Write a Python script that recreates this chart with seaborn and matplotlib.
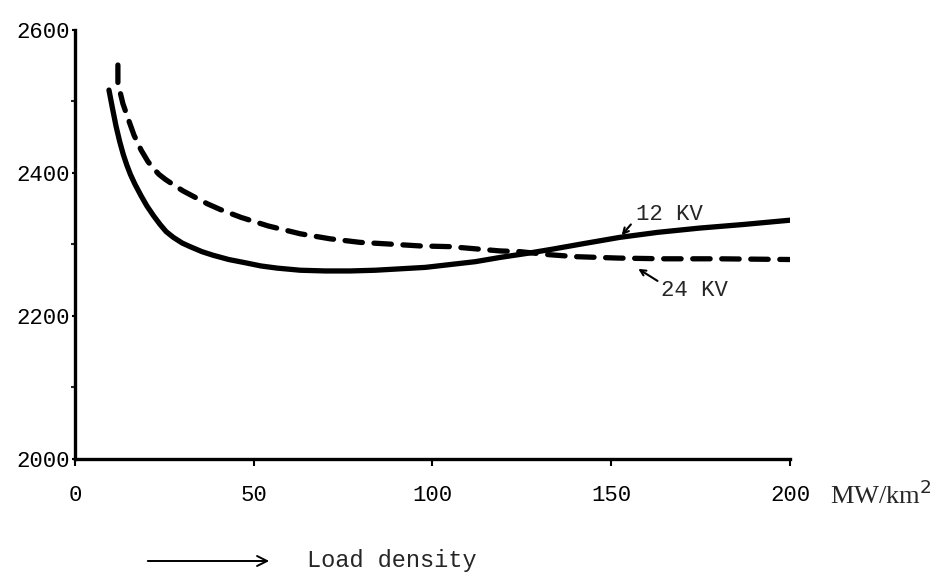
import matplotlib
matplotlib.use("Agg")
import matplotlib.pyplot as plt
import seaborn as sns
import pandas as pd

# Cost curves versus load density (MW/km^2)
x_12kv = [9.5, 10.5, 11.5, 12.5, 13.5, 14.5, 15.5, 16.8, 18.5, 20.1, 22.0, 23.8, 25.5, 27.5,
          30.0, 32.2, 35.5, 38.6, 43.0, 48.1, 52.0, 56.5, 63.0, 70.0, 77.0, 84.0, 91.0,
          98.0, 105.0, 112.0, 119.0, 127.0, 133.0, 142.0, 152.4, 163.0, 174.8, 187.0, 200.0]
y_12kv = [2516, 2490, 2465, 2444, 2426, 2411, 2398, 2384, 2368, 2354, 2340, 2328, 2318, 2310,
          2302, 2297, 2290, 2285, 2279, 2274, 2270, 2267, 2264, 2263, 2263, 2264, 2266,
          2268, 2272, 2276, 2282, 2288, 2293, 2301, 2310, 2317, 2323, 2328, 2334]

x_24kv = [12.0, 12.0, 13.4, 15.0, 16.5, 18.5, 20.4, 22.0, 23.5, 25.3, 27.1, 30.2, 33.6, 37.0,
          40.6, 46.4, 54.0, 63.0, 71.3, 79.7, 86.7, 96.5, 104.9, 111.9, 118.9, 124.5,
          132.0, 140.0, 152.0, 165.0, 180.0, 200.0]
y_24kv = [2551, 2526, 2497, 2474, 2453, 2432, 2416, 2406, 2398, 2391, 2385, 2375, 2366, 2357,
          2349, 2338, 2326, 2315, 2308, 2303, 2301, 2298, 2297, 2294, 2291, 2290,
          2286, 2283, 2281, 2280, 2280, 2279]

series_names = ["12 KV", "24 KV"]
x_ticks = [0, 50, 100, 150, 200]
y_ticks = [2000, 2200, 2400, 2600]
y_minor = [2100, 2300, 2500]

df = pd.concat([
    pd.DataFrame({"density": x_12kv, "cost": y_12kv, "voltage": series_names[0]}),
    pd.DataFrame({"density": x_24kv, "cost": y_24kv, "voltage": series_names[1]}),
])

sns.set_style("white")
plt.rcParams["font.family"] = ["Liberation Mono", "DejaVu Sans Mono"]

fig = plt.figure(figsize=(9.52, 5.76), dpi=100)
ax = fig.add_axes([75 / 952, (576 - 459) / 576, (790 - 75) / 952, (459 - 30) / 576])

sns.lineplot(
    data=df, x="density", y="cost", hue="voltage", style="voltage",
    palette={"12 KV": "black", "24 KV": "black"},
    dashes={"12 KV": "", "24 KV": (3.3, 2.2)},
    linewidth=3.8, legend=False, ax=ax, estimator=None, sort=False,
)
for ln in ax.get_lines():
    ln.set_solid_capstyle("round")
    ln.set_dash_capstyle("round")
    ln.set_solid_joinstyle("round")
    ln.set_dash_joinstyle("round")

ax.set_xlim(0, 200)
ax.set_ylim(2000, 2600)
ax.set_xticks(x_ticks)
ax.set_yticks(y_ticks)
ax.set_yticks(y_minor, minor=True)
ax.set_xlabel("")
ax.set_ylabel("")

for side in ["top", "right"]:
    ax.spines[side].set_visible(False)
for side in ["left", "bottom"]:
    ax.spines[side].set_linewidth(2.4)
    ax.spines[side].set_color("black")

ax.tick_params(axis="x", which="major", direction="out", length=5, width=1.5,
               pad=14, labelsize=16, colors="black", bottom=True)
ax.tick_params(axis="y", which="major", direction="out", length=2, width=1.5,
               pad=2, labelsize=16, colors="black", left=True)
ax.tick_params(axis="y", which="minor", direction="out", length=3, width=1.5,
               left=True)

# Curve labels with pointer arrows
ax.annotate("", xy=(152.4, 2310), xytext=(156.0, 2331),
            arrowprops=dict(arrowstyle="->", color="black", lw=1.5))
ax.text(156.8, 2342, series_names[0], ha="left", va="center", fontsize=16)
ax.annotate("", xy=(156.9, 2268), xytext=(163.6, 2247),
            arrowprops=dict(arrowstyle="->", color="black", lw=1.5))
ax.text(164.0, 2236, series_names[1], ha="left", va="center", fontsize=16)

# Unit label to the right of the axis
fig.text(830 / 952, 1 - 495 / 576, "MW/km$^2$", ha="left", va="center",
         fontsize=19, family="Liberation Serif")

# Direction arrow and axis caption beneath the chart
fig.patches.append(matplotlib.patches.FancyArrowPatch(
    (145 / 952, 1 - 561 / 576), (272 / 952, 1 - 561 / 576),
    transform=fig.transFigure, arrowstyle="->", mutation_scale=18,
    color="black", lw=1.4))
fig.text(307 / 952, 1 - 561 / 576, "Load density", ha="left", va="center",
         fontsize=17)

fig.savefig("out.png", dpi=100, facecolor="white")
